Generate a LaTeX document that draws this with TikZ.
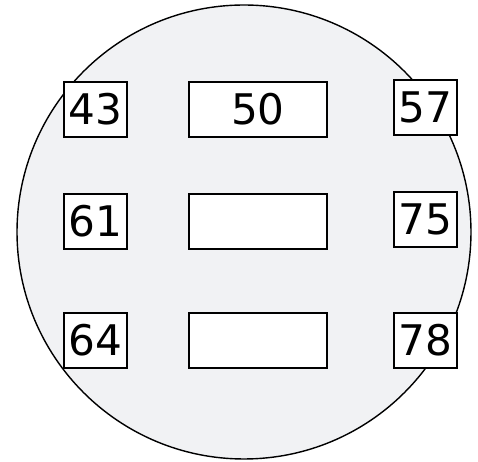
\documentclass[tikz,border=0pt]{standalone}
\usepackage{fontspec}
\setmainfont{DejaVu Sans}
\usetikzlibrary{positioning}
\definecolor{DiscFill}{HTML}{F1F2F4}
\begin{document}
\begin{tikzpicture}[x=0.02cm,y=-0.02cm,numbox/.style={draw=black,fill=white,line width=1.1pt,minimum width=1.26cm,minimum height=1.1cm,inner sep=0pt,font=\fontsize{24}{28}\selectfont},widebox/.style={numbox,minimum width=2.76cm}]
\useasboundingbox (0,0) rectangle (478,462);
\draw[fill=DiscFill,line width=0.8pt] (244,232) circle[radius=227];
\foreach \r/\y/\yr/\a/\m/\b in {A/109.5/107.5/43/50/57,B/221.5/219.5/61//75,C/340.5/340.5/64//78}{
\node[numbox] (l\r) at (95.5,\y){\a};
\node[widebox] (m\r) at (258,\y){\m};
\node[numbox] (r\r) at (425.5,\yr){\b};
}
\end{tikzpicture}
\end{document}
